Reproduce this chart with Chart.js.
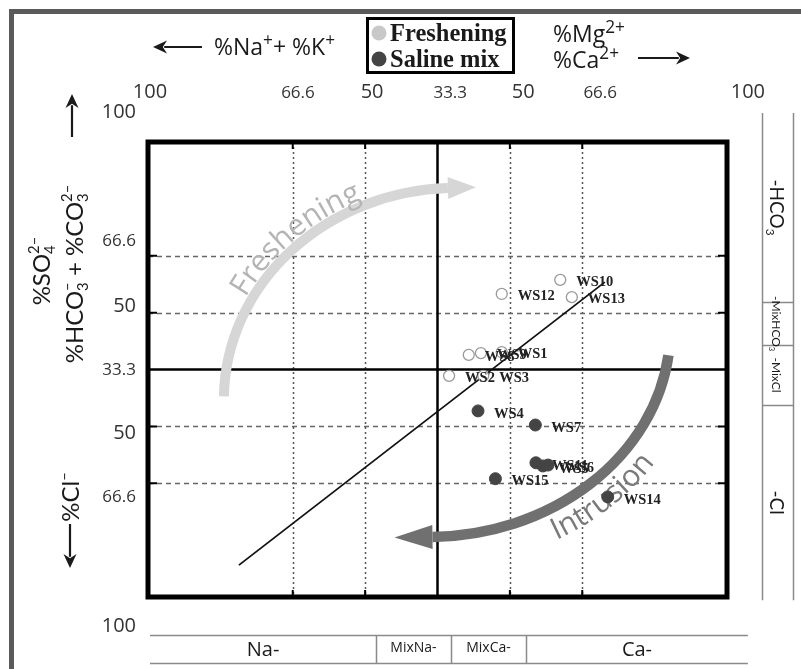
<!DOCTYPE html>
<html>
<head>
<meta charset="utf-8">
<script src="https://cdn.jsdelivr.net/npm/chart.js@4.4.1/dist/chart.umd.min.js"></script>
<style>
  body { margin: 0; background: #fff; }
</style>
</head>
<body>
<canvas id="hfeChart" width="801" height="669"></canvas>
<script>
// --- data (x: 0..100 across the box, y: 0..100 bottom to top)
const freshNames = ['WS10', 'WS12', 'WS13', 'WS8', 'WS9', 'WS1', 'WS2', 'WS3'];
const freshX = [71.2, 61.1, 73.2, 55.4, 57.5, 61.1, 52.0, 57.9];
const freshY = [69.7, 66.6, 65.9, 53.2, 53.6, 53.8, 48.6, 48.6];

const salineNames = ['WS4', 'WS7', 'WS11', 'WS5', 'WS6', 'WS15', 'WS14'];
const salineX = [57.0, 66.9, 67.0, 68.2, 69.1, 60.0, 79.4];
const salineY = [40.9, 37.8, 29.5, 28.8, 29.0, 26.0, 22.0];

const trendX = [15.7, 78.9];
const trendY = [7.0, 69.2];

// tick labels and where they sit
const xTickVals = [0.35, 25.9, 38.7, 52.2, 64.8, 78.1, 103.6];
const xTickLabels = ['100', '66.6', '50', '33.3', '50', '66.6', '100'];
const yTickVals = [106.6, 78.2, 63.9, 49.9, 36.0, 22.0, -6.4];
const yTickLabels = ['100', '66.6', '50', '33.3', '50', '66.6', '100'];
const gridVals = [25, 37.5, 62.5, 75];

// facies strips
const cationFacies = ['Na-', 'MixNa-', 'MixCa-', 'Ca-'];
const cationBounds = [0.35, 39.4, 52.3, 65.3, 103.6];
const anionFacies = ['-HCO_{3}', '-MixHCO_{3}', '-MixCl', '-Cl'];
const anionBounds = [106.4, 64.8, 55.4, 42.2, -0.7];

const SANS = '"Open Sans", Lato, sans-serif';
const NARROW = 'Lato, "Open Sans", sans-serif';
const SERIF = '"Liberation Serif", "DejaVu Serif", serif';

// small markup: ^{sup} _{sub} &{sub|sup}
function parseRich(s) {
    const out = [];
    let i = 0, buf = '';
    while (i < s.length) {
        const c = s[i];
        if ((c === '^' || c === '_' || c === '&') && s[i + 1] === '{') {
            if (buf) { out.push({ t: buf, k: 'n' }); buf = ''; }
            const end = s.indexOf('}', i);
            const inner = s.slice(i + 2, end);
            if (c === '&') {
                const [a, b] = inner.split('|');
                out.push({ t: a, t2: b, k: 's' });
            } else {
                out.push({ t: inner, k: c });
            }
            i = end + 1;
        } else {
            buf += c;
            i++;
        }
    }
    if (buf) out.push({ t: buf, k: 'n' });
    return out;
}

function drawRich(ctx, s, x, y, size, family, align, supScale) {
    const parts = parseRich(s);
    const fontN = size + 'px ' + family;
    const fontS = (size * (supScale || 0.62)) + 'px ' + family;
    let w = 0;
    parts.forEach(p => {
        if (p.k === 'n') {
            ctx.font = fontN;
            p.w = ctx.measureText(p.t).width;
        } else {
            ctx.font = fontS;
            p.w = Math.max(ctx.measureText(p.t).width, p.t2 ? ctx.measureText(p.t2).width : 0);
        }
        w += p.w;
    });
    let cx = align === 'center' ? x - w / 2 : align === 'right' ? x - w : x;
    ctx.textAlign = 'left';
    ctx.textBaseline = 'alphabetic';
    parts.forEach(p => {
        if (p.k === 'n') {
            ctx.font = fontN;
            ctx.fillText(p.t, cx, y);
        } else {
            ctx.font = fontS;
            if (p.k === '^') ctx.fillText(p.t, cx, y - size * 0.4);
            else if (p.k === '_') ctx.fillText(p.t, cx, y + size * 0.22);
            else {
                ctx.fillText(p.t, cx, y + size * 0.22);
                ctx.fillText(p.t2, cx, y - size * 0.45);
            }
        }
        cx += p.w;
    });
}

function straightArrow(ctx, x1, y1, x2, y2) {
    const a = Math.atan2(y2 - y1, x2 - x1);
    const L = 14, H = 6.5;
    ctx.beginPath();
    ctx.moveTo(x1, y1);
    ctx.lineTo(x2 - Math.cos(a) * L * 0.8, y2 - Math.sin(a) * L * 0.8);
    ctx.stroke();
    ctx.beginPath();
    ctx.moveTo(x2, y2);
    ctx.lineTo(x2 - Math.cos(a) * L - Math.sin(a) * H, y2 - Math.sin(a) * L + Math.cos(a) * H);
    ctx.lineTo(x2 - Math.cos(a) * L * 0.7, y2 - Math.sin(a) * L * 0.7);
    ctx.lineTo(x2 - Math.cos(a) * L + Math.sin(a) * H, y2 - Math.sin(a) * L - Math.cos(a) * H);
    ctx.closePath();
    ctx.fill();
}

function toPixEllipse(xs, ys, e) {
    const cx = xs.getPixelForValue(e.cx), cy = ys.getPixelForValue(e.cy);
    return {
        cx, cy,
        rx: xs.getPixelForValue(e.cx + e.rx) - cx,
        ry: cy - ys.getPixelForValue(e.cy + e.ry)
    };
}

function curvedArrow(ctx, e, th0, th1, color, width, headLen, headHalf) {
    ctx.save();
    ctx.strokeStyle = color;
    ctx.fillStyle = color;
    ctx.lineWidth = width;
    ctx.beginPath();
    ctx.ellipse(e.cx, e.cy, e.rx, e.ry, 0, th0, th1, false);
    ctx.stroke();
    let dx = -e.rx * Math.sin(th1), dy = e.ry * Math.cos(th1);
    const n = Math.hypot(dx, dy);
    dx /= n; dy /= n;
    const bx = e.cx + e.rx * Math.cos(th1), by = e.cy + e.ry * Math.sin(th1);
    ctx.beginPath();
    ctx.moveTo(bx + dx * headLen, by + dy * headLen);
    ctx.lineTo(bx - dy * headHalf, by + dx * headHalf);
    ctx.lineTo(bx + dy * headHalf, by - dx * headHalf);
    ctx.closePath();
    ctx.fill();
    ctx.restore();
}

function textOnEllipse(ctx, text, e, off, th0, dir, font, color) {
    ctx.save();
    ctx.font = font;
    ctx.fillStyle = color;
    ctx.textAlign = 'center';
    ctx.textBaseline = 'alphabetic';
    const a = e.rx + off, b = e.ry + off;
    let th = th0;
    const adv = ds => {
        for (let k = 0; k < 10; k++) {
            const sp = Math.hypot(a * Math.sin(th), b * Math.cos(th));
            th += dir * (ds / 10) / sp;
        }
    };
    for (const ch of text) {
        const w = ctx.measureText(ch).width;
        adv(w / 2);
        const x = e.cx + a * Math.cos(th), y = e.cy + b * Math.sin(th);
        const dx = -a * Math.sin(th) * dir, dy = b * Math.cos(th) * dir;
        ctx.save();
        ctx.translate(x, y);
        ctx.rotate(Math.atan2(dy, dx));
        ctx.fillText(ch, 0, 0);
        ctx.restore();
        adv(w / 2);
    }
    ctx.restore();
}

const deg = d => d * Math.PI / 180;

// process arrows, in data units
const freshArc = { cx: 53.2, cy: 43.3, rx: 40.1, ry: 46.6 };
const intrusionArc = { cx: 48.4, cy: 58.7, rx: 41.8, ry: 45.5 };

const hfePlugin = {
    id: 'hfe',
    beforeDatasetsDraw(chart) {
        const { ctx, chartArea: ca, scales: { x, y } } = chart;
        ctx.save();
        // grid
        ctx.lineWidth = 1.5;
        ctx.strokeStyle = '#555';
        ctx.setLineDash([2, 3]);
        gridVals.forEach(v => {
            const px = Math.round(x.getPixelForValue(v)) + 0.5;
            ctx.beginPath(); ctx.moveTo(px, ca.top); ctx.lineTo(px, ca.bottom); ctx.stroke();
        });
        ctx.strokeStyle = '#666';
        ctx.setLineDash([5, 4]);
        gridVals.forEach(v => {
            const py = Math.round(y.getPixelForValue(v)) + 0.5;
            ctx.beginPath(); ctx.moveTo(ca.left, py); ctx.lineTo(ca.right, py); ctx.stroke();
        });
        ctx.setLineDash([]);
        ctx.strokeStyle = '#000';
        ctx.lineWidth = 2;
        gridVals.forEach(v => {
            const px = x.getPixelForValue(v), py = y.getPixelForValue(v);
            ctx.beginPath();
            ctx.moveTo(px, ca.top); ctx.lineTo(px, ca.top + 7);
            ctx.moveTo(px, ca.bottom); ctx.lineTo(px, ca.bottom - 7);
            ctx.moveTo(ca.left, py); ctx.lineTo(ca.left + 9, py);
            ctx.moveTo(ca.right, py); ctx.lineTo(ca.right - 9, py);
            ctx.stroke();
        });
        // centre cross
        ctx.lineWidth = 2.5;
        const cx = x.getPixelForValue(50), cy = y.getPixelForValue(50);
        ctx.beginPath();
        ctx.moveTo(cx, ca.top); ctx.lineTo(cx, ca.bottom);
        ctx.moveTo(ca.left, cy); ctx.lineTo(ca.right, cy);
        ctx.stroke();

        // freshening / intrusion arrows
        const fe = toPixEllipse(x, y, freshArc);
        curvedArrow(ctx, fe, deg(181), deg(268), '#d6d6d6', 10, 28, 11);
        textOnEllipse(ctx, 'Freshening', fe, 6, deg(208), 1, '30px ' + SANS, '#b4b4b4');
        const ie = toPixEllipse(x, y, intrusionArc);
        curvedArrow(ctx, ie, deg(7), deg(89), '#707070', 10.5, 38, 12);
        textOnEllipse(ctx, 'Intrusion', ie, 31, deg(62), -1, '30px ' + SANS, '#7a7a7a');
        ctx.restore();
    },
    afterDatasetsDraw(chart) {
        const { ctx, chartArea: ca, scales: { x, y } } = chart;
        ctx.save();
        // sample labels
        ctx.font = 'bold 14.5px ' + SERIF;
        ctx.fillStyle = '#222';
        ctx.textAlign = 'left';
        ctx.textBaseline = 'middle';
        freshNames.forEach((n, i) => ctx.fillText(n, x.getPixelForValue(freshX[i]) + 16, y.getPixelForValue(freshY[i]) + 2));
        salineNames.forEach((n, i) => ctx.fillText(n, x.getPixelForValue(salineX[i]) + 16, y.getPixelForValue(salineY[i]) + 3));

        // plot frame
        ctx.strokeStyle = '#000';
        ctx.lineWidth = 5;
        ctx.strokeRect(ca.left, ca.top, ca.right - ca.left, ca.bottom - ca.top);
        ctx.restore();
    },
    afterDraw(chart) {
        const { ctx, chartArea: ca, scales: { x, y } } = chart;
        ctx.save();
        ctx.fillStyle = '#333';

        // tick labels
        ctx.textBaseline = 'alphabetic';
        ctx.textAlign = 'center';
        xTickLabels.forEach((t, i) => {
            ctx.font = (t.includes('.') ? 17 : 20) + 'px ' + SANS;
            ctx.fillText(t, x.getPixelForValue(xTickVals[i]), ca.top - 44);
        });
        ctx.textAlign = 'right';
        ctx.textBaseline = 'middle';
        yTickLabels.forEach((t, i) => {
            ctx.font = (t.includes('.') ? 17 : 20) + 'px ' + SANS;
            ctx.fillText(t, ca.left - 12, y.getPixelForValue(yTickVals[i]));
        });

        // header
        ctx.fillStyle = '#1a1a1a';
        ctx.strokeStyle = '#1a1a1a';
        ctx.lineWidth = 2.2;
        straightArrow(ctx, 202, 47, 153, 47);
        drawRich(ctx, '%Na^{+}+ %K^{+}', 214, 55, 23, SANS, 'left', 0.75);
        drawRich(ctx, '%Mg^{2+}', 553, 42, 23, SANS, 'left', 0.75);
        drawRich(ctx, '%Ca^{2+}', 553, 68, 23, SANS, 'left', 0.75);
        straightArrow(ctx, 638, 58, 690, 58);

        // legend
        ctx.lineWidth = 3;
        ctx.strokeStyle = '#000';
        ctx.strokeRect(367.5, 18.5, 146, 54);
        const legendItems = [
            { label: 'Freshening', color: chart.data.datasets[0].legendColor, yy: 33 },
            { label: 'Saline mix', color: chart.data.datasets[1].legendColor, yy: 59 }
        ];
        legendItems.forEach(it => {
            ctx.fillStyle = it.color;
            ctx.beginPath(); ctx.arc(379, it.yy, 7.5, 0, Math.PI * 2); ctx.fill();
            ctx.fillStyle = '#1a1a1a';
            ctx.font = 'bold 24.5px ' + SERIF;
            ctx.textAlign = 'left';
            ctx.textBaseline = 'alphabetic';
            ctx.fillText(it.label, 390, it.yy + 8);
        });

        // left axis titles
        ctx.fillStyle = '#1a1a1a';
        ctx.strokeStyle = '#1a1a1a';
        ctx.lineWidth = 2.2;
        straightArrow(ctx, 72, 137, 72, 94);
        ctx.save();
        ctx.translate(50, 271); ctx.rotate(-Math.PI / 2);
        drawRich(ctx, '%SO&{4|2–}', 0, 0, 24, NARROW, 'center');
        ctx.restore();
        ctx.save();
        ctx.translate(83, 274); ctx.rotate(-Math.PI / 2);
        drawRich(ctx, '%HCO&{3|–} + %CO&{3|2–}', 0, 0, 24, NARROW, 'center');
        ctx.restore();
        ctx.save();
        ctx.translate(79, 497); ctx.rotate(-Math.PI / 2);
        drawRich(ctx, '%Cl^{–}', 0, 0, 24, NARROW, 'center');
        ctx.restore();
        straightArrow(ctx, 70, 524, 70, 568);

        // cation facies strip (bottom)
        ctx.strokeStyle = '#8a8a8a';
        ctx.lineWidth = 1.5;
        const sx0 = x.getPixelForValue(cationBounds[0]);
        const sx1 = x.getPixelForValue(cationBounds[cationBounds.length - 1]);
        ctx.beginPath();
        ctx.moveTo(sx0, 635.5); ctx.lineTo(sx1, 635.5);
        ctx.moveTo(sx0, 663.5); ctx.lineTo(sx1, 663.5);
        cationBounds.slice(1, -1).forEach(v => {
            const px = Math.round(x.getPixelForValue(v)) + 0.5;
            ctx.moveTo(px, 635); ctx.lineTo(px, 664);
        });
        ctx.stroke();
        ctx.fillStyle = '#1a1a1a';
        ctx.textAlign = 'center';
        ctx.textBaseline = 'middle';
        cationFacies.forEach((t, i) => {
            const mid = (x.getPixelForValue(cationBounds[i]) + x.getPixelForValue(cationBounds[i + 1])) / 2;
            ctx.font = (t.startsWith('Mix') ? 14 : 20) + 'px ' + SANS;
            ctx.fillText(t, mid, t.startsWith('Mix') ? 648 : 650);
        });

        // anion facies strip (right)
        const ry0 = y.getPixelForValue(anionBounds[0]);
        const ry1 = y.getPixelForValue(anionBounds[anionBounds.length - 1]);
        ctx.beginPath();
        ctx.moveTo(762.5, ry0); ctx.lineTo(762.5, ry1);
        ctx.moveTo(793.5, ry0); ctx.lineTo(793.5, ry1);
        anionBounds.slice(1, -1).forEach(v => {
            const py = Math.round(y.getPixelForValue(v)) + 0.5;
            ctx.moveTo(762, py); ctx.lineTo(794, py);
        });
        ctx.stroke();
        anionFacies.forEach((t, i) => {
            const mid = (y.getPixelForValue(anionBounds[i]) + y.getPixelForValue(anionBounds[i + 1])) / 2;
            const small = t.startsWith('-Mix');
            ctx.save();
            ctx.translate(small ? 772 : 770, mid);
            ctx.rotate(Math.PI / 2);
            drawRich(ctx, t, 0, 0, small ? 12 : 19, NARROW, 'center');
            ctx.restore();
        });

        // outer frame
        ctx.fillStyle = '#5a5a5a';
        ctx.fillRect(9, 9, 801 - 9, 5);
        ctx.fillRect(9, 9, 5, 669 - 9);
        ctx.restore();
    }
};

const toPts = (xs, ys) => xs.map((v, i) => ({ x: v, y: ys[i] }));

new Chart(document.getElementById('hfeChart'), {
    type: 'scatter',
    data: {
        datasets: [
            {
                label: 'Freshening',
                data: toPts(freshX, freshY),
                pointRadius: 5.5,
                pointBackgroundColor: '#ffffff',
                pointBorderColor: '#9a9a9a',
                pointBorderWidth: 1.3,
                legendColor: '#c8c8c8'
            },
            {
                label: 'Saline mix',
                data: toPts(salineX, salineY),
                pointRadius: 6,
                pointBackgroundColor: '#444444',
                pointBorderColor: '#444444',
                pointBorderWidth: 1,
                legendColor: '#444444'
            },
            {
                label: 'trend',
                data: toPts(trendX, trendY),
                showLine: true,
                borderColor: '#111111',
                borderWidth: 1.8,
                pointRadius: 0
            }
        ]
    },
    options: {
        responsive: false,
        animation: false,
        layout: { padding: { left: 148, top: 142, right: 74, bottom: 72 } },
        plugins: {
            legend: { display: false },
            tooltip: { enabled: false }
        },
        scales: {
            x: { type: 'linear', min: 0, max: 100, display: false },
            y: { type: 'linear', min: 0, max: 100, display: false }
        }
    },
    plugins: [hfePlugin]
});
</script>
</body>
</html>
